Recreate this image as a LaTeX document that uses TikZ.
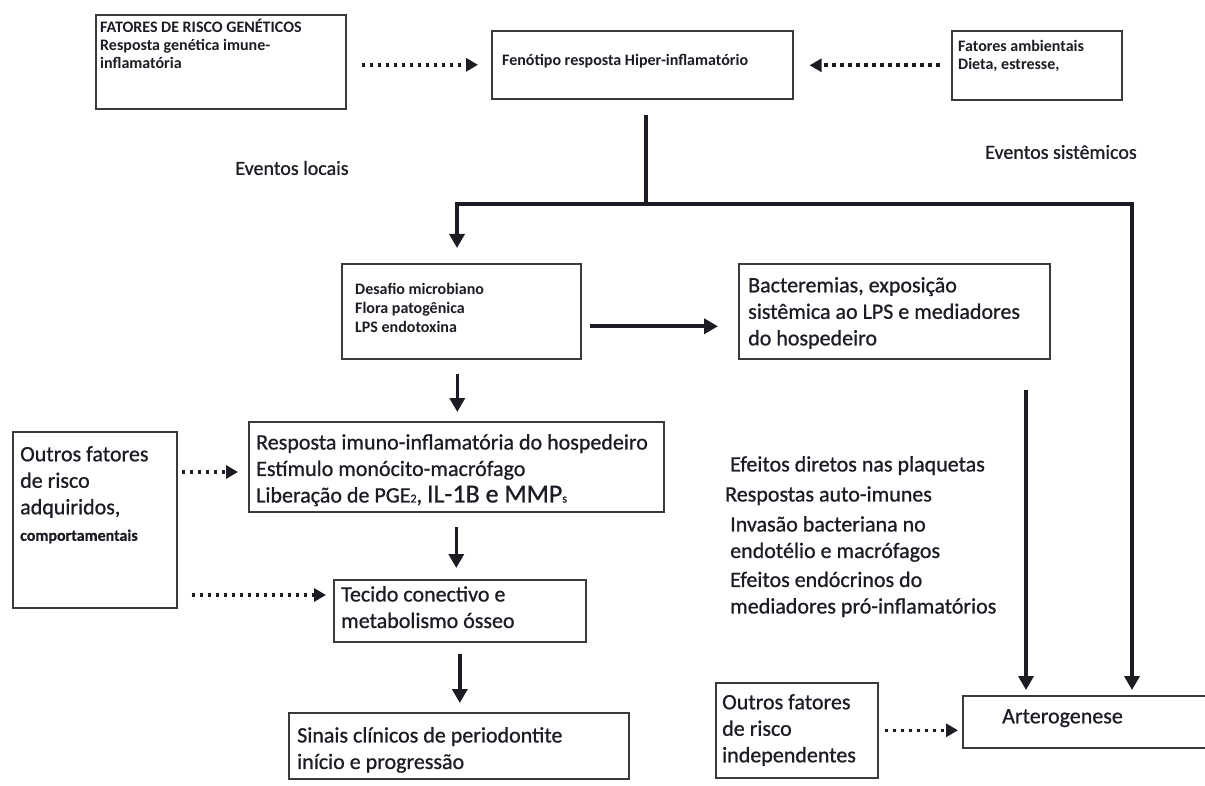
\documentclass[tikz,border=0pt]{standalone}
\usepackage{fontspec}
\setmainfont{Carlito}
\newfontfamily\semib{Carlito}[FakeBold=0.8]
\usetikzlibrary{arrows.meta,calc}
\definecolor{ink}{HTML}{1C1C24}
\definecolor{frame}{HTML}{3A3A3A}
\begin{document}
\begin{tikzpicture}[x=1pt,y=-1pt,
  box/.style={draw=frame,line width=1.6pt,inner sep=0pt,anchor=north west},
  txt/.style={anchor=north west,inner sep=0pt,align=left,text=ink,font=\semib\fontsize{22}{26.5}\selectfont},
  stxt/.style={anchor=north west,inner sep=0pt,align=left,text=ink,font=\bfseries\fontsize{16}{18}\selectfont},
  lbl/.style={inner sep=0pt,text=ink,font=\semib\fontsize{20}{24}\selectfont},
  solidline/.style={draw=ink,line width=3.6pt,line join=miter},
  solidarr/.style={solidline,-{Triangle[length=14pt,width=15pt]}},
  dotarr/.style={draw=ink,line width=3.6pt,dash pattern=on 3.6pt off 4.4pt,-{Triangle[length=12pt,width=13pt]}}
]
\useasboundingbox (0,0) rectangle (1205,786);
\fill[white] (0,0) rectangle (1205,786);

% boxes
\node[box,minimum width=250pt,minimum height=94pt] (gen) at (95,14) {};
\node[box,minimum width=301pt,minimum height=68pt] (fen) at (491,30) {};
\node[box,minimum width=170pt,minimum height=69pt] (amb) at (951,30) {};
\node[box,minimum width=239pt,minimum height=95pt] (des) at (341,263) {};
\node[box,minimum width=311pt,minimum height=95pt] (bac) at (738,263) {};
\node[box,minimum width=164pt,minimum height=176pt] (oa) at (12,431) {};
\node[box,minimum width=415pt,minimum height=90pt] (resp) at (248,421) {};
\node[box,minimum width=252pt,minimum height=62pt] (tec) at (333,579) {};
\node[box,minimum width=340pt,minimum height=66pt] (sin) at (288,712) {};
\node[box,minimum width=162pt,minimum height=95pt] (oi) at (715,682) {};
\node[box,minimum width=260pt,minimum height=52pt] (art) at (962,695) {};

% texts
\node[stxt] (gent) at (100,19) {FATORES DE RISCO GENÉTICOS\\Resposta genética imune-\\inflamatória};
\node[stxt] (fent) at (502,54) {Fenótipo resposta Hiper-inflamatório};
\node[stxt] (ambt) at (958,40) {Fatores ambientais\\Dieta, estresse,};
\node[lbl] (locais) at (292,168) {Eventos locais};
\node[lbl] (sist) at (1061,152) {Eventos sistêmicos};
\node[stxt,font=\bfseries\fontsize{16}{19}\selectfont] (dest) at (355,283) {Desafio microbiano\\Flora patogênica\\LPS endotoxina};
\node[txt] (bact) at (748,277) {Bacteremias, exposição\\sistêmica ao LPS e mediadores\\do hospedeiro};
\node[txt] (respt) at (256,434) {Resposta imuno-inflamatória do hospedeiro\\Estímulo monócito-macrófago\\Liberação de PGE{\fontsize{12}{12}\selectfont 2}, {\fontsize{26}{26}\selectfont IL-1B e MMP}{\fontsize{12}{12}\selectfont s}};
\node[txt] (oat) at (20,446) {Outros fatores\\de risco\\adquiridos,\\{\bfseries\fontsize{16}{18}\selectfont comportamentais}};
\node[txt] (tect) at (341,586) {Tecido conectivo e\\metabolismo ósseo};
\node[txt] (sint) at (297,727) {Sinais clínicos de periodontite\\início e progressão};
\node[txt] (oit) at (722,694) {Outros fatores\\de risco\\independentes};
\node[txt] (artt) at (1002,709) {Arterogenese};
\node[txt] (eff) at (730,456) {Efeitos diretos nas plaquetas\\[3.5pt]\hspace*{-5pt}Respostas auto-imunes\\[3.5pt]Invasão bacteriana no\\endotélio e macrófagos\\[2.5pt]Efeitos endócrinos do\\mediadores pró-inflamatórios};

% junction coordinates
\coordinate (j0) at (646,115);
\coordinate (j1) at (646,204);
\coordinate (jl) at (457,204);
\coordinate (jr) at (1132,204);
\coordinate (bv) at (1026,390);

% solid connectors
\draw[solidline] (j0) -- (j1);
\draw[solidarr,shorten >=15pt] (j1) -- (jl) -- (jl |- des.north);
\draw[solidarr,shorten >=5pt] (j1) -- (jr) -- (jr |- art.north);
\path (des.east) ++(0,15) coordinate (d1);
\draw[solidarr,shorten <=8pt,shorten >=20pt] (d1) -- (d1 -| bac.west);
\path (des.south) ++(-4,0) coordinate (d2);
\draw[solidarr,shorten <=14pt,shorten >=9pt] (d2) -- (d2 |- resp.north);
\draw[solidarr,shorten <=14pt,shorten >=11pt] (resp.south) -- (resp.south |- tec.north);
\draw[solidarr,shorten <=11pt,shorten >=9pt] (tec.south) -- (tec.south |- sin.north);
\draw[solidarr,shorten >=5pt] (bv) -- (bv |- art.north);

% dotted connectors
\draw[dotarr,shorten <=15pt,shorten >=13pt] (gen.east |- fen.west) -- (fen.west);
\draw[dotarr,shorten <=11pt,shorten >=16pt] (amb.west) -- (amb.west -| fen.east);
\path (oa.north east) ++(0,41) coordinate (oa1);
\draw[dotarr,shorten <=4pt,shorten >=10pt] (oa1) -- (oa1 -| resp.west);
\path (oa.north east) ++(0,164) coordinate (oa2);
\draw[dotarr,shorten <=14pt,shorten >=7pt] (oa2) -- (oa2 -| tec.west);
\draw[dotarr,shorten <=6pt,shorten >=4pt] (oi.east) -- (oi.east -| art.west);
\end{tikzpicture}
\end{document}
